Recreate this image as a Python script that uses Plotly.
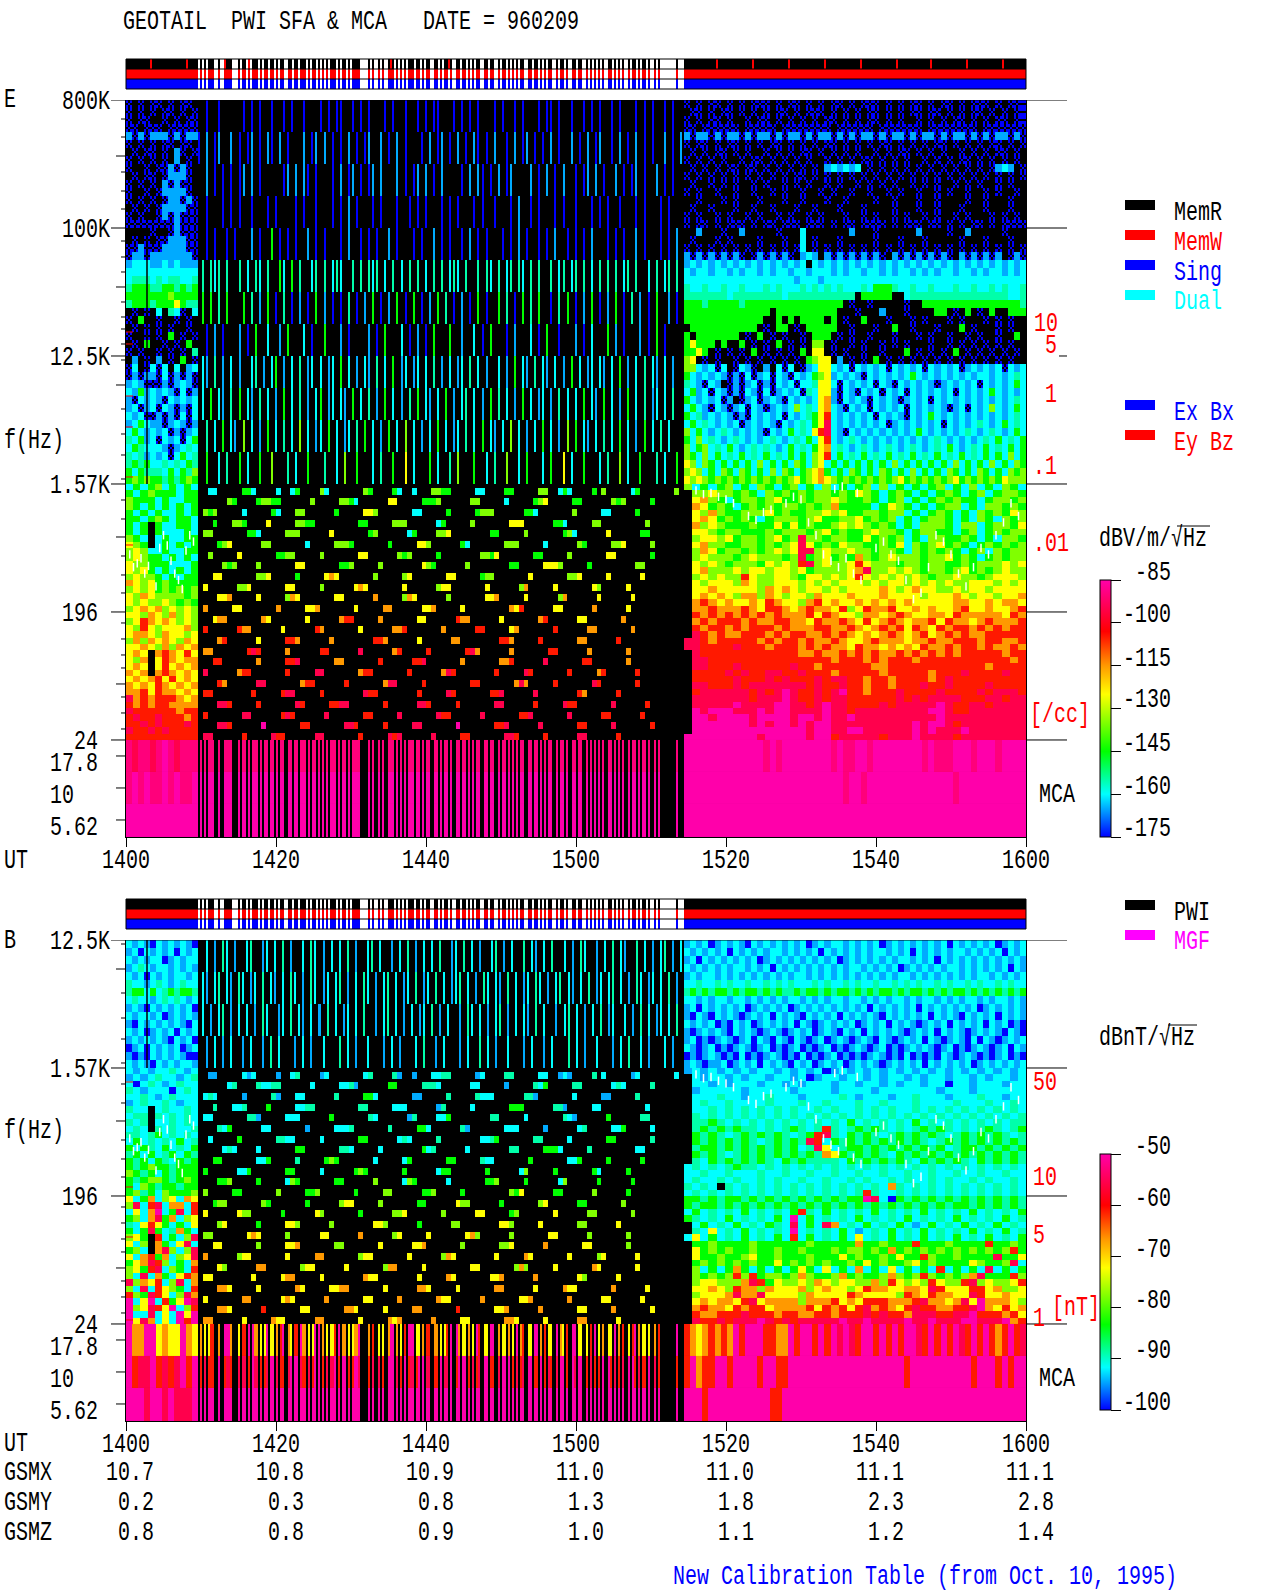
import numpy as np
import plotly.graph_objects as go

MONO = "Liberation Mono"
W, H = 1280, 1593

# ---------- values: one character per cell ('.' = no data / black)
E_HI_L = ["0.0.00.0.00.0","0.0.0.00.0.0","0.00..0.0.00","00.000.00000","101011101011","0.0.0.00.00.",".0.00.0.10.0","0.0.0.0.1.0.","0..0.001010.",".0.00.01110.","0.0.0.10100.","0..0.011110.","0.0.0.011010",".0.0.0111100","0.0..0101000","000000001000",
"....0..01000",".0.0.0011100","001000111100","011011111110","1ccc11c1c111","cccccccccccc","c222c2c22cc2","233322332323","333333343333","233323335322",".0.0.c.2c0.c","0.3..0..0.0.",".0.0.0.0..0.","0..0.0.3.0.0",".0.3..0.0.3.","0.0..0.0.0.2",
".1.0.1.0.3.0","0c.0c0c.c.1c","010110c01010","1c1000101c10","c131c1c10c01","10c1c10c1c1c","1c01c0c1010c","c1c001010c0c","1c3c1101c101","c3c1c1c0101c","2c31c0c1c0c3","c32ccc101c2c","2c21c1c0c3c2","2323cc2c2c32","3c3222c3c324","343433232343"]
E_HI_R = ["0.0.00.0.0.000.0.00.0.0.00.0.000.0.0.00.0.00.0.000.0.00",".00.0.00.0.0.0.00.0.000.0.0.0.00.0.0.00.00.0.0.00.0.0.0","0.0.00.0..0.00.0.0.0.0.00.0.0.00.0.0..0.0.0.00.0.0.00.0","00.000000.00000.00000000.000000.0000000.00000000.0000000","10110101101011010110101101010110101101011010110101011010","0.00.0.00.0.0.00.0.0.0.00.0.0.0.00.0.0.0.00.0.0.0.00.0.0",".0.0.00.0.0..0.0.0.00.0.0.0.0..0.0.00.0.0.0..0.0.0.00.0.","0.0.0.0..0.00.0.0.0.0..0.0.0.00.0.0.0..0.0.0.00.0.0.0.0.",".0.0.0.00.00.0.0.0.0.0.1c1c1c.0.0.0.0.0.0.0.0.0.0.01c1.0","0.0.0.0.0.0.0.0.0.00.0.0.0.0.0.0.0.0.0.0.0.0.0.0.0.0.0.0",".0..0.0.0..0.0..0.0.0..0.0..0.0.0.0..0.0.0..0.0.0..0.0..","0.0..0..0..0..0.0..0..0.0..0..0..0.0..0..0.0..0..0.0..0.","..0...0.0...0...0..0...0..0....0..0...0..0....0..0...0..",".0..0...0..0..0...0..0...0...0....0...0..0...0...0...0..0","0.0..0.0..0.0..0.0..0.0...0..0.0..0.0..0.0..0.0...0.0.0.","0.00.0.000.0.00.000.000.0.00.0000.0.000.00.0.0.00.0.0000",
"..1...0..1.....0...c.......1...0......1....0..1.....0...",".0...0.0....0...0..c.0...0.....0...0...0.....0...0...0..","0.0.0.0.0.0.0.0.0.0c.0.0.0.0.0.0.0.0.0.0.0.0.0.0.0.0.0.0","1010101010.0101010.1c1.1010101010.1010101010.1010101.010","1c1c1c1c1c1c1c1c1c1c.c1c1c1c1c1c1c1c1c1c1c1c1c1c1c1c1c1c","c1cc1cc1c1cc1c1cc1cc1ccc1c1cc1cc1c1cc1c1c1cc1cc1c1cc1c1c","cccccccccccccccccc1ccc1ccccccccccccccccccccccccccccccccc","2cc2cc2cc2ccc2c2ccc2c2c2c2ccc2c3332cc2cc2ccc2cc2cc2c2cc2","2222222c22222222c22222222222.33333..c2222222222222222cc2","33323333323333333333333333.0..0.....0..33333333333333332","33333333333333.3333333333...0...1...0....33.0.3.0.3..333","3333333333333..3.3.3333.3.0..3...0...0.0...0.0...0.0.0..",".33333333333.0.33.0.33333..0...0..3..0...0...3.0...0.0..","3.3333333.0.3.0.0..0.333.0.0..0...0...0.0..0..0.0..0..3.","35333.3..3.0.0.3.0.0.44.0..0.0..0.0.0...0..0.0.0.0.0.0.","3353.0.0.0.3.0.0.0.3.55.0.0..0..0...3.0.0.0.3.0.0.0.0.0.",
"45.0.0..0.0.0.0.0.0.3455.1.0.0.3.0.0.0.0.0.0.0.0.0.0.0.","44c1c0c.0c10.1.c0c.01c55c1c0c1c1c0c1c1c0c1c1c01c1c1c0c1c","3c1c1c1010c01c0c10c1c3451c1c10c1c1c1c3c1c1c1c1c1cc1c1c2c","2c10c1.0101c010c1c0cc255c0c1c1c0c10c1c1c101c1c1c0c1c1c3c","c31c0c1010c10c01c1c02c5510c10c1c0c1c0c1c1c1c0c1c1c3c1c1c","3c1c1c01.01c01c10c1c1c5610c1c10c1c101c1c0c1c1c1c1c1c1c2c","c3c10c101c0c101c1c4c2c56c10c1c0c1c1c0c1c1c101c0c1c4c1c3c","3c21c1c1010c1c1c0c1c2357c1c1c1c0c1c10c1c3c1c1c1c1c1c1c2c","c3c2c1c1c01c1c10c1c2c358c1c1c1c1c01c1c1c1c0c1c1c2c1c3c2c","4c3c1c2c1c1c10c1c3c2c578c10c1c1c1c1c1c3c1c1c1c2c1c2c1c3c","3c4c2c1c2c1c1c2c1c2c3c57c1c2c1c1c1c1c1c1c2c1c1c1c2c3c2c3","4c34c2c3c1c2c2c1c3c2c356c2c1c2c1c2c1c2c1c2c3c1c2c3c2c3c3","43c4c3c2c3c2c3c2c3c3c457c3c2c3c2c3c2c3c2c3c2c3c2c3c3c4c3","54c43c3c3c3c4c3c3c43c45c3c3c3c3c3c4c3c3c3c3c4c3c3c4c3c43","454c3c43c43c3c4c43c34563c3c43c3c43c3c4c3c3c43c3c43c3c434","54543434343434343453456543434343434534343434534343435444"]
E_LO_L = ["c3c34c3c3c","3c34333c33","4333c3cc33","43c3c3c3c3","3c3c3cc3c3","33c343c33c","3c3.3cc33c","3c3.3ccc3c","43c.c3cc33","543.c3c3c3","454cc3cc33","45433c3c3c","544333ccc3","5453c3c3c3","45443c3c33","6545343333","4545343434","5465444434","5454454343","4565645454","5546546454","4576565454","5475455564","5665465545","4646565465","5565464656","565.676575","546.576566","565.575656","656.676565","5656757565","6565765656","6675766565","8676777656","7676776666","8777777677","7877877767","7787877787","8778787777","7777777777"]
E_LO_R = ["4c3c34c3c43c34c3c4c3c34c4c3c3c34c3c4c3c43c",".44544343c43434344343543c343c3c343c34c3443",".5643c344345334344543343c34c3c343433c34434",".65343c3434344343463333c3543c3c344c3c44343",".54643344453433445453344344c3c343c3c434354",".56534343c3444345334453434c3c3443c3c43c434",".6454333433535343345454343c3c4443c44c34435",".55434433343444345343345443c34433c34c34344",".45545344345348443443353434c3c443343c3c443",".56443344343458534354433435c4345343c343434",".46534434345458845445443443c434343c34c4344",".45444345444348345343643454443445343c34344",".54543444354547845445754443443443343444545",".56444545545545344445684454543443453434544",".45454475445543554545754545454344544345554",".54555465445554545455545455454545445554545",".55655555465654554545555654565544545545555",".56565466465455465556555655554555654554556",".67656556576554675655656565655555665565665",".66766676577656766574576675565655675565567",".76767676767666757655466567655665766666576",".67677767667766576676575676566757665676667",".76776767776766677667656767576576776767677",".87676677767677667676565676567567676677777","887677777676776766765567666566766777677667","887777877767776767665766565657667677676676",".87777777777776676676767667676767677777677",".88777777777777777677767677767777777777767",".88777877777787767777776677777777777767777",".77778787788778777677777677777677787777877",".77777877787877787887767767777678777777777",".88777878888888787787767767778778777787777",".78888887878987787897767778777787777878887",".88888887888987787887777778787888877788788",".88888988889988789887777878888898778878888",".98999888989988889887888888888998778888888",".99899998999989989889888888888898888888888",".99999998989989899888888888898998788888888",".99999999999999899889988888898988898888888","999999999899999899788888788898888788888888"]
E_MID_HI = ["..0..0.....0.0.0..0..0.0..0...0.0.00..0.0.0...0.0..0..0.0.00...0.0.0.0...0.0..0.0...0.00.0..0..0.0.0..0.0...0.0.0..0.0..","0.1.01..1.0.01.0.10.1.0...1.01.1.0.0.1.0.01..1.0.1.0...0.1.01.0.1.0.10.0.1..0.1.01.0.0.1.0..1.0.1.01..0.1.0.1.0.0..1.0.1","..1.0.0.0.01.1.0.....01.1.10.0...0.1.01.0.01.1...1.0.01.1.0.1....0.1.10.0.1.01....1.0.1.0.1..0.01.1.0..1.0.01.0..1.0.0..","..0...0.0.0..0...0.0....0.0..0...0.0.1.0...0.0...0..0.0.0...0.0.0...0.0..0...0.1..0.0...0.0..0...0.0.0..0...0.0...0.0....","..0.0..0.0...1.0..3.0.0.0..1.0.0...0.1..0.0.0..1.0...0.0..1.0.0..0.1.0.0...0.0.1.0..0.0.1..0.0.0.1...0.0.0..1.0...0.0.1..",".2.2c2.2..2.c.2c.2..3c.3.2..c2.2.c2c..2.2.2c2.c.2.c.2.2.c.2.2.c2c.2..2.2c.2.c2.2c.2.2..2.c2.c2.2.c.2.2.2.c2.2..c.2.c2.2..",".3.3.2.3...3.2.1.3.0.2.0.1.0.3.1.0.0.2.0.1.3.0.1.3.0.3.0.1.3.2.0.1.0.3.0..3.2.0.3.2.3..0.2.3.0.1.3.0.1.3.0.2.1.0.3..1.0..","..0.1.0...1.0.3..c..1.3...c.0..3...1.0....1.0.3...c.0.1.0.3...3..1..c.0.3...0.1...c.0.3..0...1.0.c...3.1.0...1.0.3.0....",".c1.2.1.c.1..c2.1.c3.1.c.2.1c.c.1c.3.c.1.c1.2.c.3.1c.1c.c.2.1.c.1c.2.c.1..c.1.3.c1.2.c1.c.1.3.c.1c.c1.c.3.1.c.2.c1.c.1...",".c.3.c1.2.3.c1.2.c.1.3.c.2.1.c3.1c.c1.3.c.2.1.3.c.1.2.3.c1.c.3.1.c2.c.1.3.2.c.1.3.c.1c.1.2.c.c.3.c1.3.c.1.3.c.2.1c.c.2..","..2.c.3.c1.4.c.1.3.c.2.c.4.c.1c.3.c.1c.2.3.c.1.3.c.4.c.1.c.3.c.1c.2.c.3.c1.c.4.c.1.c.3.c.1.4.3.c1.c.2.c.3.c.1.3.c.2.c..","..3..c.2..3.c..3..4...2.c..3...2..c.4..3...c.2..3..5.c...3.c..2.4...3..c.2..4..c.3...c.3..5.c..3...c.2..4.c..3...2.c..3."]
E_MID_LO = ["..cc.....33c....c..c3....4c.......43....3c..c...4433.....cc....33.....44..c3c....3.4.....c3.......4.","......43....34433......4.....443c......55.....3334......44.....c.....345.....33......434.....3......",".434.....c.....3c...44......3.....554.......cc.....3.....3444......33c.......4.....cc.....3..........","...3...443....5.....4433.........33.....444......c3.....4.......555......33c.....44.........4.......",".44.......33c.....444......5.......34......c3....445........33.....4.......34c......5......33.......","....345......44.......c.....4443.......3.....554......3c.......444.....c......43.....445.....4......","..4.....5.......3344.....4.......55......434.....3........4435.......33.....4.......55.......3......",".....434....4.......55.......334.....4........543......4........33.....5554.....3.........44........","...55.......445.....3.....565.......4.....45.......55.....344.......5.......445.....5......5........",".5......445.......55.....4......565.......5......455.......5......46.....5.......54.....5...........","....556.....5.....465.......55......6.....465......4.......556.....5......46......5......5..........",".6.....55.......6.....556.......5.....66......556.....5.........657......55......6......5...........",
"...566.......65.......5......677.....6.......55......766......5.......67......55.......6............",".7......766......5......76.......5......667.......6......77.....56.......7......66.......6..........","....67......5.....776......6........776......5......66........776.....7.......66......7.............",".66.......787.....6......77......8......67.....7.......786......6.......77......6.......6...........","...77.......6.....778.......66.......7......778.......6.......667......8.......77.......6............",".8......677.......7.....88.......677.......7......687........7.....87.......7.....67......7..........","....76......88.......677......7.......688.....7.........77.......686.....7.......87.......7.........",".77........7.....788.....7........877........7.....87.......778......8........76......7..............","....887.....7.......87.....7788.......7......887.....7.......88......7.....877.......8......7........",".7.......88......787......8.......77.....8.......877......8.......778.......8......77......7........","....887......9.......77.......887.....7.....88.......9.......778......8.......77.....8.......7......",".88......7.....877......88.......7.....878......8.....77.......887.....7......88......7.............."]
B_HI_L = ["c1c10c1c1c10","1c0c1c1c0c1c","c1c1cc01c1cc","1c2c1cc1c1c1","c1c0c1c1cc1c","2cc1c2c1c2cc","233c3c232332","c2cc1c2c2c1c","1c10c1c1c1c0","c1cc1c01c1c1","10c1c1c1c10c","c1c01c1c0c1c","1c1c1c10c1c0","01c0c1c1c01c","1010c1c1c100","c1c10c1c1cc1"]
B_HI_R = ["1c1c01c1c10c1c1c1c1c01c1cc1c1c1c01c1c1c1c1c0c1c1c1c01c1c","c1c1c1c0c1c1c1cc1c1c1c0c1c1c1c1cc1c1c0c1c1c1cc1c1c1c0c1c","1c0c1c1c1c1c01c1c1c1c1c1c01c1c1c1c1cc1c1c0c1c1c1c1c1c1c1","c1c1c1c1cc1c1c0c1c1c1c1c1c1cc1c1c1c01c1c1c1cc1c1c1c1c0c1","1c1cc1c1c1c1c1c1c1cc1c1c1c1c1c1c1c1cc1c1c1c1c1c1cc1c1c1c","cc2cc2c2cc2cc2c2c2ccc2c2cc2c2cc2cc2c2c2cc2c2cc2c2cc2c2cc","23232332323323232232332323323232332323323232332323232323","cc1c1cc1cc1c1c1c1cc1c1c1cc1cc1c1c1cc1c1cc1c1c1cc1c1cc1c1","1c0c1c1c1c01c1c1c01c1c1c1c1c1c0c1c1c1c0c1c1c1c1c01c1c1c1","10c10c1c101c1c0c1c10c1c1c0c1c1c10c1c1c1c0c1c10c1c1c0c1c1","c1c1c010c1c01c1c1c0c101c1c1c01c1c0c1c101c1c0c1c1c0c1c010","101c1c10c1c101c101c1c01c10c1c0c1c1c101c1c0c1c101c1c10c10","1c0101c101c0c10c10c101c01c101c10c101c1c0c101c10c0c101c1c","c101c0101c101c0101c0101c0101c101c0101c1c101c0101c101c0c1","0101c1010c0101c1010c0101c010101c1010c01010c101c10101c010","1c1011c01c1c0c1c10c1c01c1c01c1c101c1c1c0c1c1c1c01c1c1c1c"]
B_LO_L = ["c1c1cc2c1c","1c1c2cc1c2","c0c2c1c2cc","2c1ccc0c2c","cc2c1c2ccc","1c2cc2c1cc","2cc.c2cc2c","c22.2c2c2c","2c2.cc2c2c","c2c.2c2cc2","22c23c2c2c","c3c2c2c3c2","3c32c3c2c3","23c3c23c32","323c32c323","3234332333",
"4323c32333","3234432343","3c43233233","3423c43334","5c36c45c65","48c78c66c7","c5c69c38c7","34c6836c45","2c5753c3c5","3c383c263c","453.7c3c48","5c4.63c58c","34c.684c48","5c6736c458","356874c3c6","45378c43c7","4c8c63c576","84657c48c6","4c8c7543c7","743875c486","9c59c73598","9458759c47","9cc8c5c959","9586c5c979"]
B_LO_R = ["1c1c1c1c1cc1c1c1c01c1c1c1c1c1c1c1c1c1c1c1c",".c1cc1c1cc1cc1c01cc1cc1c1cc1c1cc1cc1c1cc1c",".cc1c1ccc1cc1c1ccc1cc1cc1c1cc1cc0cc1ccc1cc",".1ccccc1ccccc1cccc1cccc1ccccccc1ccc1cccccc",".ccc2cc1cc2ccc1cccc2c1ccc1cc2ccc1ccc2cc1cc",".c2cc2cccc2ccc2cc2ccc2cc2ccc2cccc2ccc2cc2c",".cc2c2c2c2c2c2cc2c2cc2c2c2cc2c2c2c2c2c2c2c",".2c2c2c2c2c2c2c2c2c2c2c2c2c2c2c2c2c2c2c2c2",".2232c2c2c2c2c2c2c2c3c2c2c2c3c2c2c2c2c2c22",".23232322c2c232c272c23232c2c23232c2c232c23",".3232c2323232c23782c3232c2323232c2323232c2",".32323232c2323287c323232323232c23232323232",".2332323232323c285c2332323232323c233232323",".3232c2323232323265323232c3232323232323232",".2c32323232c3232222c32323232c323232c323232","c2c2c2322c2c2c2c2c2c2c2c2c2c2c2c2c2c2c2c2c","cc2cc2ccc2cc2cc2cc2cc2cc2cc2cc2cc2cc2cc2cc","c2cc2c2cc2c2cc2cc2cc2c2cc2c2cc2c2cc2c2cc2c","2c2c.2c2c2c2c2c2c2c2c2c2c62c2c2c2c2c2c2c2c","c2c2c2c2c2c2c2c2c2c2c272cc2c2c2c2c2c2c2c2c",
"332323323232323232323398c03232323232323232","323323232323232323232323232323232332323232","c3c2c2c3c2c2c372c3c2c2c3c2c2c3c2c2c3c2c2c3","32c2c3c2c2c3c9c3c2c2c3c2c2c3c2c2c3c2c2c3c2",".c3c2c3c2c32c8c3c86c2c3c2c3c1c3c2c3c2c3c2c",".2c5c2c3c2c2c9c2c2c3c1c2c3c2c3c2c2c3c2c3c2","c5c3c2c3c2c3c7c3c2c3c5c2c3c2c3c2c3c2c3c2c3",".33433334333333433333633433373334333373343",".53434334334334333434434363434343434343473",".53343345334333433353433435337433433338335",".3434343433534343433435343345343333543348c",".4c3c363c3c3c353c5c3c6c3c5c3c3c7c3c3c8c3c3",".43434747344346433463433464347434346833374",".45544468735445465455446475454754478454457",".55654766465556456554576655665875557756445",".45556866855554655557655554765766558755655",".56566578566664666756577766678665685966654",".67665767756666757675786765787766778965756",".76677787776776677677787877688877889777675",".87787888987878888898898888988988899888967"]
B_MID_HI = ["..c.1.2c.1..c2..1c.c.2.1..c.2c.1.c.c.2.1..c2.c..1.c.2.1.c.c.2..1c.2.c.1..c2.1.c..2.c1.c.2..c.1.2c..1.c.2.c1..2.c.1.c2.1.c.",".c1.c2.c1.2c.1c.2.c1.c.2c.1.2c.1c.c2.1.c.2c.1.c2.c.1c.2.1c.2.c.1c2.c.1.2c.c1.2.c.1c.2c.1.c2.c1.c.2.1c.c2.c.1.2c.1c.c.2.1.",".c.1.c2.1.c.c.1.2c..1c.2.c1.c.1.2.c.1c.c.2..1.c2.c.1.c.1c.2.1.c..1.2c.c.1.c2.1.c.c1.2.c..1.c2.c.1.c.2.1c..c.1.2.c.1c.c.2.","..1.c.1.c..1.c..1.2.c...1.c.1..c...2.c.1..c...1.c.1...c.2..1.c...1.c..2.c.1..c...1.c..1.c...2.c.1..c...1.c.2..c.1...c.1.."]
B_MID_LO = ["..11.....c1c....1..c2....1c.......c2....21..1...cc22.....1c....22.....cc..1c1....2.c.....1c.......c.","......c2....2cc22......c.....cc21......33.....222c......cc.....1.....2c3.....22......c2c.....2......",".c2c.....1.....21...cc......2.....33c.......11.....2.....2ccc......221.......c.....11.....2..........","...2...cc2....3.....cc22.........22.....ccc......12.....c.......333......221.....cc.........c.......",".cc.......221.....ccc......3.......2c......12....cc3........22.....c.......2c1......3......22.......","....2c3......cc.......1.....ccc2.......2.....33c......21.......ccc.....1......c2.....cc3.....c......","..c.....3.......22cc.....c.......33......c2c.....2........cc23.......22.....c.......33.......2......",".....c2c....c.......33.......22c.....c........3c2......c........22.....333c.....2.........cc........","...33.......cc3.....2.....343.......c.....c3.......33.....2cc.......3.......cc3.....3......3........",".3......cc3.......33.....c......343.......3......c33.......3......c4.....3.......3c.....3...........","....334.....3.....c43.......33......4.....c43......c.......334.....3......c4......3......3..........",".4.....33.......4.....334.......3.....44......334.....3.........435......33......4......3...........",
"...344.......43.......3......455.....4.......33......544......3.......45......33.......4............",".5......544......3......54.......3......445.......4......55.....34.......5......44.......4..........","....45......3.....554......4........554......3......44........554.....5.......44......5.............",".44.......565.....4......55......6......45.....5.......564......4.......55......4.......4...........","...55.......4.....556.......44.......5......556.......4.......445......6.......55.......4............",".6......455.......5.....66.......455.......5......465........5.....65.......5.....45......5..........","....54......66.......455......5.......466.....5.........55.......464.....5.......65.......5.........",".55........5.....566.....5........655........5.....65.......556......6........54......5..............","....665.....5.......65.....5566.......5......665.....5.......66......5.....655.......6......5........",".5.......66......565......6.......55.....6.......655......6.......556.......6......55......5........","....665......7.......55.......665.....5.....66.......7.......556......6.......55.....6.......5......",".66......5.....655......66.......5.....656......6.....55.......665.....5......66......5.............."]
E_MCA_L = ["p8pp8p9p8ppp","p9p9pp9p9pp9","999999999999"]
E_MCA_R = ["9999999999999p9p99999999p9pp99p99999999p9ppp999p999p9999","99999999999999999999999999p99p99999999999999p99999999999","99999999999999999999999999999999999999999999999999999999"]
E_MCA_MID = ["p","9","9"]
B_MCA_L = ["966995655965","978897878979","999899898889"]
B_MCA_R = ["76567676979997766979979798987997979799879797987979767978","79677997999979977999999999999999999979999999999799979799","99979999999999779999999999999999999999999999999999999999"]
B_MCA_MID = ["6557569965579965595679657965599655796556996795569657995567965579965659755996565967559675596579956579565596757965596756995679",
"7877997877887987789877899878799788979779877898799879787998779889799787899778997878997978789979899787799787899787998789978979",
"9999999999999999999999999999999999999999999999999999999999999999999999999999999999999999999999999999999999999999999999999999"]
# positions (in 2 px steps of the 1410-1515 stretch) of the gaps in the telemetry status bars
GATE_ON = [0,2,4,8,9,11,12,17,18,19,21,24,26,30,32,35,38,40,43,44,47,50,54,56,59,61,63,65,69,71,74,76,81,82,83,84,86,88,89,91,93,94,98,100,102,104,108,111,113,116,117,120,122,125,127,128,131,134,136,138,141,142,145,148,149,151,154,156,158,160,163,164,167,170,172,174,177,178,180,183,185,186,189,192,193,195,197,199,201,203,204,207,209,211,213,214,216,219,221,224,226,227,229,231,232,233,234,235,236,237,238,240,241,242]
STATUS_RED = [3.3,8.0,13.1,16.4,35.2,43.1,78.9,83.7,88.4,93.1,97.9,102.7,107.4,112.2,116.9]
# plasma-line dots (minute, band)
DOT_T = [0.5,1,1.5,2,2.5,3,4,4.5,5,5.5,6,6.5,7,7.5,8,8.5,9,76,77,78,79,80,81,83,84,85,86,88,89,90,91,92,93,94,94.5,95,95.5,96,97,97.5,98,100,101,102,103,104,105,106,107,108,109,110,111,112,113,114,115,116,117,118,119]
DOT_B = [1.45,1.35,1.38,1.42,1.3,1.36,1.2,1.5,1.6,1.52,1.4,1.3,1.25,1.18,1.48,1.6,1.55,1.95,1.92,1.93,1.9,1.88,1.85,1.75,1.72,1.78,1.8,1.85,1.9,1.88,1.7,1.6,1.45,1.4,1.96,1.35,1.98,1.42,1.3,1.93,1.25,1.5,1.55,1.45,1.4,1.25,1.1,1.15,1.35,1.6,1.55,1.45,1.3,1.2,1.35,1.5,1.45,1.6,1.7,1.85,1.75]
UT_TICKS = [0,20,40,60,80,100,120]
UT_LABELS = ["1400","1420","1440","1500","1520","1540","1600"]
GSMX = ["10.7","10.8","10.9","11.0","11.0","11.1","11.1"]
GSMY = ["0.2","0.3","0.8","1.3","1.8","2.3","2.8"]
GSMZ = ["0.8","0.8","0.9","1.0","1.1","1.2","1.4"]
E_CB_VALS = [-85,-100,-115,-130,-145,-160,-175]
B_CB_VALS = [-50,-60,-70,-80,-90,-100]

LEVEL = {str(d): d/9 for d in range(10)}; LEVEL["c"] = 1/6; LEVEL["p"] = .945; LEVEL["."] = np.nan
SCALE = [[0,"#0000ff"],[1/6,"#00ffff"],[1/3,"#00ff00"],[5/9,"#ffff00"],[2/3,"#ff9900"],[0.8,"#ff0000"],[1,"#ff00aa"]]

fig = go.Figure()

def cells(rows, t0, t1, top, bot, xa, ya, ca, lo, hi):
    n = int(np.median([len(r) for r in rows]))
    rows = [r[:n].ljust(n, r[-1]) for r in rows][::-1]
    z = np.array([[lo + LEVEL[c]*(hi-lo) for c in r] for r in rows])
    dt = (t1-t0)/n; db = (top-bot)/len(rows)
    fig.add_trace(go.Heatmap(z=z, x=[t0+i*dt for i in range(n+1)], y=[bot+j*db for j in range(len(rows)+1)],
                             coloraxis=ca, xaxis=xa, yaxis=ya, hoverinfo="skip"))

def thin_stripes(rows):   # gated stripes are narrower than one typed cell
    return ["".join(c+"." for c in r) for r in rows]
def thin_blocks(rows):    # gated blocks are shorter than one typed cell
    out = []
    for r in rows:
        out += ["."*len(r), r, r]
    return out
def partial(rows):        # noise-floor cells are only partly filled
    out = []
    for r in rows:
        out.append("".join("0.0" if c == "0" else c*3 for c in r))
        out.append("".join(".0." if c == "0" else c*3 for c in r))
        out.append("".join("0.0" if c == "0" else c*3 for c in r))
    return out

T1, T2 = 9.6, 74.4
def mca(L, MID, R, xa, ya, ca, lo, hi):
    gate = set(GATE_ON)
    for (l, m, r), (top, bot) in zip(zip(L, MID, R), [(0,-.25),(-.25,-.5),(-.5,-.758)]):
        mm = m if len(m) > 1 else m*122
        s = "".join("." if i in gate else mm[min(i//2, len(mm)-1)] for i in range(243))
        cells([l], 0, T1, top, bot, xa, ya, ca, lo, hi)
        cells([s], T1, T2, top, bot, xa, ya, ca, lo, hi)
        cells([r], T2, 120, top, bot, xa, ya, ca, lo, hi)

# E panel
cells(partial(E_HI_L),0,T1,5,2,"x","y","coloraxis",-175,-85)
cells(partial(E_HI_R),T2,120,5,2,"x","y","coloraxis",-175,-85)
cells(thin_stripes(E_MID_HI),T1,T2,5,2,"x","y","coloraxis",-175,-85)
cells(E_LO_L,0,T1,2,0,"x","y","coloraxis",-175,-85)
cells(E_LO_R,T2,120,2,0,"x","y","coloraxis",-175,-85)
cells(thin_blocks(E_MID_LO),T1,T2,2,0,"x","y","coloraxis",-175,-85)
mca(E_MCA_L,E_MCA_MID,E_MCA_R,"x","y","coloraxis",-175,-85)
# B panel
cells(B_HI_L,0,T1,3,2,"x3","y3","coloraxis2",-100,-50)
cells(B_HI_R,T2,120,3,2,"x3","y3","coloraxis2",-100,-50)
cells(thin_stripes(B_MID_HI),T1,T2,3,2,"x3","y3","coloraxis2",-100,-50)
cells(B_LO_L,0,T1,2,0,"x3","y3","coloraxis2",-100,-50)
cells(B_LO_R,T2,120,2,0,"x3","y3","coloraxis2",-100,-50)
cells(thin_blocks(B_MID_LO),T1,T2,2,0,"x3","y3","coloraxis2",-100,-50)
mca(B_MCA_L,B_MCA_MID,B_MCA_R,"x3","y3","coloraxis2",-100,-50)

for xa, ya in (("x","y"),("x3","y3")):
    fig.add_trace(go.Scatter(x=DOT_T, y=DOT_B, mode="markers", xaxis=xa, yaxis=ya, hoverinfo="skip", showlegend=False,
                             marker=dict(symbol="line-ns", size=6, line=dict(width=1.5, color="white"))))

# status bars
STATUS_SCALE = [[0,"#000"],[.25,"#000"],[.25,"#fff"],[.5,"#fff"],[.5,"#f00"],[.75,"#f00"],[.75,"#00f"],[1,"#00f"]]
def status(xa, ya, marks):
    n = 450
    rows = []
    for fill in (3, 2, 0):
        r = [fill]*n
        for g in GATE_ON:
            r[36+g] = 1
        rows.append(r)
    for t in marks:
        rows[2][int(t*7.5/2)] = 2
    fig.add_trace(go.Heatmap(z=rows, x=[i*120/n for i in range(n+1)], y=[0,1,2,3], xaxis=xa, yaxis=ya, zmin=0, zmax=3,
                             colorscale=STATUS_SCALE, showscale=False, hoverinfo="skip"))
status("x2","y2",STATUS_RED)
status("x4","y4",[])

def py(p): return 1 - p/H
def yd(a,b): return [py(b), py(a)]
XD = [126/W, 1026/W]
TF = dict(family=MONO, size=20, color="black")
common_x = dict(range=[0,120], domain=XD, tickmode="array", tickvals=UT_TICKS, ticktext=UT_LABELS, ticks="outside", ticklen=9,
                tickcolor="black", showgrid=False, zeroline=False, showline=True, linecolor="black", tickfont=TF, ticklabelstandoff=-5)
common_y = dict(tickmode="array", ticks="", showgrid=False, zeroline=False, showline=True, linecolor="black", mirror=True, tickfont=TF, ticklabelstandoff=11)
NB = "\u00a0"
CB = dict(x=1100/W,xanchor="left",yanchor="top",lenmode="pixels",thickness=11,thicknessmode="pixels",xpad=0,ypad=0,
          outlinecolor="black",outlinewidth=1,ticks="outside",ticklen=10,tickcolor="black",showticklabels=False,tickmode="array")
fig.update_layout(
    width=W, height=H, autosize=False, margin=dict(l=0,r=0,t=0,b=0,autoexpand=False), paper_bgcolor="white", plot_bgcolor="black", showlegend=False,
    xaxis=dict(common_x, anchor="y"),
    yaxis=dict(common_y, domain=yd(100,837), range=[-.758,5], anchor="x",
               tickvals=[5,4,3,2,1,0,-.17,-.42,-.67],
               ticktext=["800K","100K","12.5K","1.57K","196"+NB,"24"+NB,"17.8"+NB,"10"+NB*3,"5.62"+NB]),
    xaxis2=dict(range=[0,120], domain=XD, visible=False, anchor="y2"),
    yaxis2=dict(range=[0,3], domain=yd(59,89), visible=False, anchor="x2"),
    xaxis3=dict(common_x, anchor="y3"),
    yaxis3=dict(common_y, domain=yd(940,1421), range=[-.758,3], anchor="x3",
                tickvals=[3,2,1,0,-.17,-.42,-.67],
                ticktext=["12.5K","1.57K","196"+NB,"24"+NB,"17.8"+NB,"10"+NB*3,"5.62"+NB]),
    xaxis4=dict(range=[0,120], domain=XD, visible=False, anchor="y4"),
    yaxis4=dict(range=[0,3], domain=yd(899,929), visible=False, anchor="x4"),
    coloraxis=dict(cmin=-175,cmax=-85,colorscale=SCALE,colorbar=dict(CB,y=py(580),len=257,tickvals=E_CB_VALS)),
    coloraxis2=dict(cmin=-100,cmax=-50,colorscale=SCALE,colorbar=dict(CB,y=py(1154),len=256,tickvals=B_CB_VALS)),
)

shapes = []
PX = 900.0
def tick(ax, val, x0, x1, color="black"):
    shapes.append(dict(type="line", xref=f"{ax[0]} domain", yref=ax[1], x0=x0/PX, x1=x1/PX, y0=val, y1=val, line=dict(color=color, width=1), layer="above"))
def minors(ax, top, offs, longs=()):
    for o in offs:
        tick(ax, top-o/128, -10 if o in longs else -5, 0)
AE, AB = ("x","y"), ("x3","y3")
O_A=[19,37,56,72,91,109]; O_B=[13,29,44,59,74,89,101,116]; O_C=[4,29,53,78,99,123]; O_D=[16,35,53,72,91,109]; O_E=[11,27,43,56,72,85,101,117]
for ax, seq in ((AE,[(5,O_A,(56,)),(4,O_B,(59,)),(3,O_C,(29,)),(2,O_D,(53,)),(1,O_E,(72,))]),(AB,[(3,O_C,(29,)),(2,O_D,(53,)),(1,O_E,(72,))])):
    for top, offs, longs in seq:
        minors(ax, top, offs, longs)
    for v in (-.125,-.375,-.625):
        tick(ax, v, -10, 0)
for v in (5,4,3,2,1,0):
    tick(AE, v, -15, 0)
    tick(AE, v, 933 if v==3 else 900, 941)
for v in (3,2,1,0):
    tick(AB, v, -15, 0)
    tick(AB, v, 900, 941)
shapes.append(dict(type="line",xref="x domain",yref="y",x0=0,x1=1,y0=5,y1=5,line=dict(color="black",width=1),layer="above"))
shapes.append(dict(type="line",xref="x3 domain",yref="y3",x0=0,x1=1,y0=3,y1=3,line=dict(color="black",width=1),layer="above"))
# dropout lines
shapes.append(dict(type="line",xref="x",yref="y",x0=2.8,x1=2.8,y0=2,y1=4,line=dict(color="black",width=1.5),layer="above"))
shapes.append(dict(type="line",xref="x3",yref="y3",x0=2.8,x1=2.8,y0=2,y1=3,line=dict(color="black",width=1.5),layer="above"))
# red density ticks
for p in (332,344,396,427,477,545):
    tick(AE, (740-p)/128, 0, 7, "red")
for p in (1082,1187,1237,1320):
    tick(AB, (1324-p)/128, 0, 7, "red")
# status borders
for xa, ya in (("x2","y2"),("x4","y4")):
    shapes.append(dict(type="rect",xref=f"{xa} domain",yref=f"{ya} domain",x0=0,x1=1,y0=0,y1=1,line=dict(color="black",width=1),layer="above"))
    for v in (1,2):
        shapes.append(dict(type="line",xref=f"{xa} domain",yref=ya,x0=0,x1=1,y0=v,y1=v,line=dict(color="black",width=1),layer="above"))
# legend swatches
for top, c in ((200,"#000"),(230,"#f00"),(260,"#00f"),(290,"#0ff"),(400,"#00f"),(430,"#f00"),(900,"#000"),(930,"#f0f")):
    shapes.append(dict(type="rect",xref="paper",yref="paper",x0=1125/W,x1=1155/W,y0=py(top+10),y1=py(top),fillcolor=c,line=dict(width=0)))
# radical overlines
for a,b,y in ((1177,1210,526),(1168,1197,1025)):
    shapes.append(dict(type="line",xref="paper",yref="paper",x0=a/W,x1=b/W,y0=py(y),y1=py(y),line=dict(color="black",width=1)))
fig.update_layout(shapes=shapes)

ann = []
def lab(x, y, text, color="black", anchor="left"):
    ann.append(dict(xref="paper",yref="paper",x=(x-3)/W,y=py(y),text=text,showarrow=False,xanchor=anchor,yanchor="middle",
                    font=dict(family=MONO,size=20,color=color),align=anchor))
lab(124,21,"GEOTAIL"+NB*2+"PWI SFA &amp; MCA"+NB*3+"DATE = 960209")
for x,y,t in ((5,100,"E"),(5,440,"f(Hz)"),(5,860,"UT"),(5,940,"B"),(5,1130,"f(Hz)"),(5,1443,"UT"),(5,1472,"GSMX"),(5,1502,"GSMY"),(5,1532,"GSMZ"),(1040,794,"MCA"),(1040,1378,"MCA"),
              (1100,538,"dBV/m/\u221aHz"),(1100,1037,"dBnT/\u221aHz"),(1175,912,"PWI"),(1175,212,"MemR")):
    lab(x,y,t)
for y,t,c in ((242,"MemW","red"),(272,"Sing","blue"),(302,"Dual","cyan"),(412,"Ex Bx","blue"),(442,"Ey Bz","red"),(942,"MGF","magenta")):
    lab(1175,y,t,c)
for x,y,t in ((1035,323,"10"),(1046,345,"5"),(1046,394,"1"),(1034,467,".1"),(1034,543,".01"),(1031,714,"[/cc]"),(1034,1082,"50"),(1034,1177,"10"),(1034,1235,"5"),(1034,1318,"1"),(1053,1307,"[nT]")):
    lab(x,y,t,"red")
lab(674,1576,"New Calibration Table (from Oct. 10, 1995)","blue")
for v, y in zip(E_CB_VALS, (572,614,658,700,743,786,828)):
    lab(1176, y, str(v), anchor="right")
for v, y in zip(B_CB_VALS, (1146,1198,1249,1300,1350,1402)):
    lab(1176, y, str(v), anchor="right")
for t, a, b, c in zip(UT_TICKS, GSMX, GSMY, GSMZ):
    for y, s in ((1472,a),(1502,b),(1532,c)):
        ann.append(dict(xref="x3",yref="paper",x=t,xshift=30,y=py(y),text=s,showarrow=False,xanchor="right",yanchor="middle",font=dict(family=MONO,size=20,color="black")))
fig.update_layout(annotations=ann)

POST = """
document.body.style.margin='0';document.documentElement.style.overflow='hidden';
var gd=document.getElementById('{plot_id}');
gd.querySelectorAll('text').forEach(function(t){
  if(!t.textContent.trim())return;
  var b=t.getBBox(),cx=b.x+b.width/2,cy=b.y+b.height/2,tr=t.getAttribute('transform')||'';
  t.setAttribute('transform',tr+' translate('+cx+','+cy+') scale(1,1.4) translate('+(-cx)+','+(-cy)+')');
});
"""
fig.write_html("out.html", post_script=POST, config={"displayModeBar": False})
